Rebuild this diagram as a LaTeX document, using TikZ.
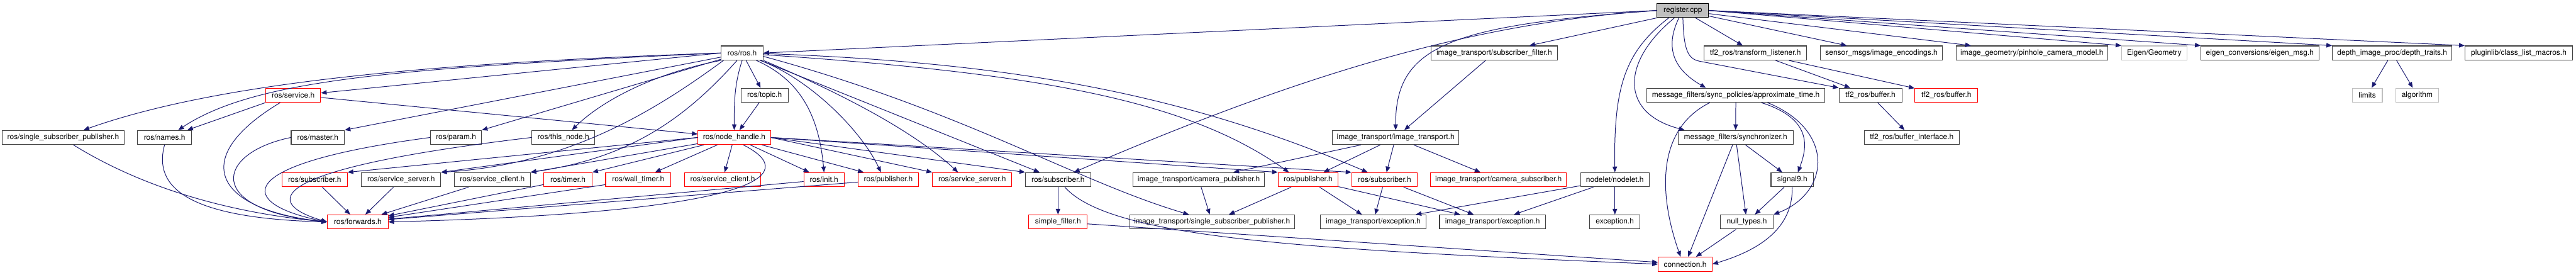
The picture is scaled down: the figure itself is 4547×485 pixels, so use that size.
\documentclass[tikz,border=0pt]{standalone}
\usepackage{fontspec}
\setmainfont{TeX Gyre Heros}
\usepackage{tikz}
\usetikzlibrary{arrows.meta,calc}
\definecolor{edgeblue}{HTML}{191970}
\definecolor{boxdark}{HTML}{404040}
\definecolor{boxred}{HTML}{FF0000}
\definecolor{boxgray}{HTML}{BFBFBF}

\begin{document}
\begin{tikzpicture}[x=1pt,y=-1pt]
        \tikzset{hdr/.style={draw=boxdark, line width=1.2pt, fill=white, rectangle, minimum height=25pt,
                 inner xsep=2pt, inner ysep=0pt, font=\fontsize{13.3pt}{15pt}\selectfont},
                 redhdr/.style={hdr, draw=boxred},
                 syshdr/.style={hdr, draw=boxgray},
                 srcfile/.style={hdr, draw=black, fill=boxgray},
                 dep/.style={draw=edgeblue, line width=1.1pt, -{Triangle[length=10pt, width=8pt]}}}
        \useasboundingbox (0,0) rectangle (4547,485);
        % top row
        \node[srcfile, minimum width=91pt] (reg) at (2970.5,18.5) {register.cpp};
        % row 1
        \node[hdr, minimum width=74pt] (ros) at (1310,93.5) {ros/ros.h};
        \node[hdr, minimum width=223pt] (itsf) at (2637.5,93.5) {image\_transport/subscriber\_filter.h};
        \node[hdr, minimum width=181pt] (tfl) at (3098.5,93.5) {tf2\_ros/transform\_listener.h};
        \node[hdr, minimum width=216pt] (enc) at (3321,93.5) {sensor\_msgs/image\_encodings.h};
        \node[hdr, minimum width=267pt] (pin) at (3586.5,93.5) {image\_geometry/pinhole\_camera\_model.h};
        \node[syshdr, minimum width=115pt] (eig) at (3802.5,93.5) {Eigen/Geometry};
        \node[hdr, minimum width=208pt] (ecv) at (3989,93.5) {eigen\_conversions/eigen\_msg.h};
        \node[hdr, minimum width=211pt] (dtr) at (4222.5,93.5) {depth\_image\_proc/depth\_traits.h};
        \node[hdr, minimum width=190pt] (plg) at (4446,93.5) {pluginlib/class\_list\_macros.h};
        % row 2
        \node[redhdr, minimum width=97pt] (srv) at (517.5,168) {ros/service.h};
        \node[hdr, minimum width=83pt] (top) at (1349.5,168) {ros/topic.h};
        \node[hdr, minimum width=314pt] (apx) at (3064,168) {message\_filters/sync\_policies/approximate\_time.h};
        \node[hdr, minimum width=111pt] (tfb) at (3301.5,168) {tf2\_ros/buffer.h};
        \node[redhdr, minimum width=111pt] (tfbr) at (3435.5,168) {tf2\_ros/buffer.h};
        \node[syshdr, minimum width=53pt] (lim) at (4178.5,168) {limits};
        \node[syshdr, minimum width=75pt] (alg) at (4266.5,168) {algorithm};
        % row 3
        \node[hdr, minimum width=215pt] (rssp) at (111.5,242.5) {ros/single\_subscriber\_publisher.h};
        \node[hdr, minimum width=95pt] (nam) at (290.5,242.5) {ros/names.h};
        \node[hdr, minimum width=94pt] (mst) at (561,242.5) {ros/master.h};
        \node[hdr, minimum width=90pt] (par) at (805,242.5) {ros/param.h};
        \node[hdr, minimum width=111pt] (thn) at (994.5,242.5) {ros/this\_node.h};
        \node[redhdr, minimum width=128pt] (nh) at (1296,242.5) {ros/node\_handle.h};
        \node[hdr, minimum width=223pt] (itt) at (2463.5,242.5) {image\_transport/image\_transport.h};
        \node[hdr, minimum width=203pt] (syn) at (3063.5,242.5) {message\_filters/synchronizer.h};
        \node[hdr, minimum width=167pt] (tbi) at (3374.5,242.5) {tf2\_ros/buffer\_interface.h};
        % row 4
        \node[redhdr, minimum width=115pt] (subA) at (555.5,317) {ros/subscriber.h};
        \node[hdr, minimum width=140pt] (ssvA) at (708,317) {ros/service\_server.h};
        \node[hdr, minimum width=134pt] (sclA) at (869,317) {ros/service\_client.h};
        \node[redhdr, minimum width=85pt] (tim) at (1002.5,317) {ros/timer.h};
        \node[redhdr, minimum width=115pt] (wtm) at (1126.5,317) {ros/wall\_timer.h};
        \node[redhdr, minimum width=135pt] (sclB) at (1275.5,317) {ros/service\_client.h};
        \node[redhdr, minimum width=71pt] (ini) at (1454.5,317) {ros/init.h};
        \node[redhdr, minimum width=106pt] (pubA) at (1568,317) {ros/publisher.h};
        \node[redhdr, minimum width=140pt] (ssvB) at (1716,317) {ros/service\_server.h};
        \node[hdr, minimum width=115pt] (subB) at (1867.5,317) {ros/subscriber.h};
        \node[hdr, minimum width=232pt] (icp) at (2116,317) {image\_transport/camera\_publisher.h};
        \node[redhdr, minimum width=106pt] (pubB) at (2309,317) {ros/publisher.h};
        \node[redhdr, minimum width=116pt] (subC) at (2444,317) {ros/subscriber.h};
        \node[redhdr, minimum width=240pt] (ics) at (2645,317) {image\_transport/camera\_subscriber.h};
        \node[hdr, minimum width=121pt] (nod) at (2850.5,317) {nodelet/nodelet.h};
        \node[hdr, minimum width=75pt] (sig) at (3163.5,317) {signal9.h};
        % row 5
        \node[redhdr, minimum width=107pt] (fwd) at (631.5,391.5) {ros/forwards.h};
        \node[redhdr, minimum width=103pt] (sfl) at (1867.5,391.5) {simple\_filter.h};
        \node[hdr, minimum width=291pt] (itssp) at (2139.5,391.5) {image\_transport/single\_subscriber\_publisher.h};
        \node[hdr, minimum width=186pt] (exA) at (2424,391.5) {image\_transport/exception.h};
        \node[hdr, minimum width=187pt] (exB) at (2634.5,391.5) {image\_transport/exception.h};
        \node[hdr, minimum width=89pt] (exc) at (2850.5,391.5) {exception.h};
        \node[hdr, minimum width=93pt] (nul) at (3083.5,391.5) {null\_types.h};
        % row 6
        \node[redhdr, minimum width=95pt] (con) at (2974.5,466) {connection.h};

        % register.cpp includes
        \draw[dep] (reg.west) -- (ros.east);
        \draw[dep] (reg.west) .. controls (2560,45) and (2463,80) .. (itt.north);
        \draw[dep] (reg.south west) -- ([xshift=-50pt]itsf.north east);
        \draw[dep] (reg.west) .. controls (2600,40) and (2300,130) .. ([xshift=-30pt]subB.north east);
        \draw[dep] (reg) -- (tfl);
        \draw[dep] (reg) -- (enc);
        \draw[dep] (reg) -- (pin);
        \draw[dep] (reg.east) -- (eig.north west);
        \draw[dep] (reg.east) -- (ecv.north west);
        \draw[dep] (reg.east) -- (dtr.north west);
        \draw[dep] (reg.east) -- (plg.north west);
        \draw[dep] ([xshift=-25pt]reg.south) .. controls (2870,90) and (2848,150) .. (nod.north);
        \draw[dep] ([xshift=-15pt]reg.south) .. controls (2860,110) and (2860,200) .. ([xshift=-90pt]syn.north);
        \draw[dep] ([xshift=-7pt]reg.south) .. controls (2940,80) and (2950,120) .. ([xshift=-53pt]apx.north);
        \draw[dep] (reg.south) .. controls (2972,90) and (2980,104) .. (3000,108) -- (tfb.north west);

        % ros/ros.h includes
        \draw[dep] (ros.west) .. controls (800,110) and (400,140) .. ([xshift=36pt]rssp.north);
        \draw[dep] (ros.west) .. controls (700,120) and (450,140) .. ([xshift=-24pt]nam.north east);
        \draw[dep] (ros.west) -- ([yshift=4pt]srv.east);
        \draw[dep] (ros) -- (mst.north east);
        \draw[dep] (ros) -- (par.north east);
        \draw[dep] (ros.south west) .. controls (1150,130) and (1060,180) .. ([xshift=15pt]thn.north);
        \draw[dep] (ros) -- (top);
        \draw[dep] (ros.south) .. controls +(-15,45) and +(0,-40) .. (nh.north);
        \draw[dep] ([xshift=-33pt]ros.south) .. controls (1150,200) and (1000,290) .. (ssvA.north east);
        \draw[dep] ([xshift=-9pt]ros.south) .. controls (1200,220) and (1100,280) .. (sclA.north east);
        \draw[dep] ([xshift=25pt]ros.south) .. controls (1410,140) and (1445,200) .. (ini.north);
        \draw[dep] ([xshift=32pt]ros.south) .. controls (1430,140) and (1520,230) .. ([xshift=-13pt]pubA.north);
        \draw[dep] (ros.south east) .. controls (1450,150) and (1600,220) .. ([xshift=-25pt]ssvB.north);
        \draw[dep] ([yshift=-6pt]ros.east) .. controls (1700,195) and (1900,320) .. ([xshift=-41pt]itssp.north);
        \draw[dep] (ros) -- (subB);
        \draw[dep] ([yshift=-1pt]ros.east) .. controls (1800,110) and (2100,170) .. ([xshift=-30pt]subC.north);
        \draw[dep] ([yshift=-3pt]ros.east) .. controls (1850,130) and (2100,180) .. ([xshift=-34pt]pubB.north);

        % ros/service.h, ros/topic.h
        \draw[dep] (srv.south west) -- ([xshift=-8pt]nam.north east);
        \draw[dep] ([xshift=-23pt]srv.south) .. controls (330,280) and (380,370) .. (fwd.west);
        \draw[dep] ([yshift=-4pt]srv.east) -- ([yshift=6pt]nh.west);
        \draw[dep] (top) -- (nh);

        % into ros/forwards.h
        \draw[dep] ([xshift=18pt]rssp.south) .. controls (250,330) and (400,375) .. (fwd.west);
        \draw[dep] (nam.south) .. controls (270,330) and (330,385) .. (fwd.west);
        \draw[dep] (mst.west) .. controls (380,270) and (360,370) .. (fwd.west);
        \draw[dep] (par.west) .. controls (400,290) and (420,360) .. (fwd.west);
        \draw[dep] (thn.west) .. controls (450,300) and (470,360) .. (fwd.west);
        \draw[dep] (subA) -- (fwd);
        \draw[dep] (ssvA) -- (fwd);
        \draw[dep] (sclA) -- (fwd);
        \draw[dep] (tim) -- (fwd);
        \draw[dep] (wtm) -- (fwd);
        \draw[dep] (ini) -- (fwd);
        \draw[dep] (pubA) -- (fwd);
        \draw[dep] ([xshift=16pt]nh.south) .. controls (1420,310) and (1330,375) .. (fwd.east);

        % ros/node_handle.h includes
        \draw[dep] (nh.west) -- (subA.north east);
        \draw[dep] (nh.west) -- (ssvA.north east);
        \draw[dep] (nh) -- (sclA.north east);
        \draw[dep] (nh) -- (tim.north east);
        \draw[dep] (nh) -- (wtm);
        \draw[dep] (nh) -- (sclB);
        \draw[dep] (nh) -- ([xshift=10pt]ini.north west);
        \draw[dep] (nh) -- ([xshift=10pt]pubA.north west);
        \draw[dep] (nh.east) -- (ssvB.north west);
        \draw[dep] (nh.east) -- (subB.north west);
        \draw[dep] (nh.east) -- (pubB.north west);
        \draw[dep] (nh.east) -- (subC.north west);

        % image_transport
        \draw[dep] (itsf) -- (itt);
        \draw[dep] (itt) -- (icp);
        \draw[dep] (itt) -- (pubB);
        \draw[dep] (itt) -- (subC);
        \draw[dep] (itt) -- (ics);
        \draw[dep] (icp) -- (itssp);
        \draw[dep] (pubB) -- (itssp);
        \draw[dep] (pubB) -- (exA);
        \draw[dep] (pubB) -- (exB);
        \draw[dep] (subC) -- (exA);
        \draw[dep] (subC) -- (exB);
        \draw[dep] (nod) -- (exA);
        \draw[dep] (nod) -- (exB);
        \draw[dep] (nod) -- (exc);

        % message_filters
        \draw[dep] (subB) -- (sfl);
        \draw[dep] ([xshift=12pt]subB.south) .. controls (1960,420) and (2300,440) .. (con.west);
        \draw[dep] (sfl) -- (con);
        \draw[dep] ([xshift=-46pt]apx.south) .. controls (2920,230) and (2930,350) .. ([xshift=-8pt]con.north);
        \draw[dep] (apx) -- (syn);
        \draw[dep] ([xshift=45pt]apx.south) .. controls (3200,210) and (3190,260) .. ([xshift=10pt]sig.north);
        \draw[dep] ([xshift=56pt]apx.south) .. controls (3240,230) and (3230,340) .. (nul.north east);
        \draw[dep] (syn) -- (con);
        \draw[dep] (syn) -- (nul);
        \draw[dep] (syn) -- (sig);
        \draw[dep] (sig) -- (nul);
        \draw[dep] (sig.south) .. controls (3165,400) and (3110,440) .. (con.east);
        \draw[dep] (nul) -- (con);

        % tf2_ros
        \draw[dep] (tfl) -- (tfb);
        \draw[dep] (tfl) -- (tfbr);
        \draw[dep] (tfb) -- (tbi);

        % depth traits
        \draw[dep] (dtr) -- (lim);
        \draw[dep] (dtr) -- (alg);
\end{tikzpicture}
\end{document}
